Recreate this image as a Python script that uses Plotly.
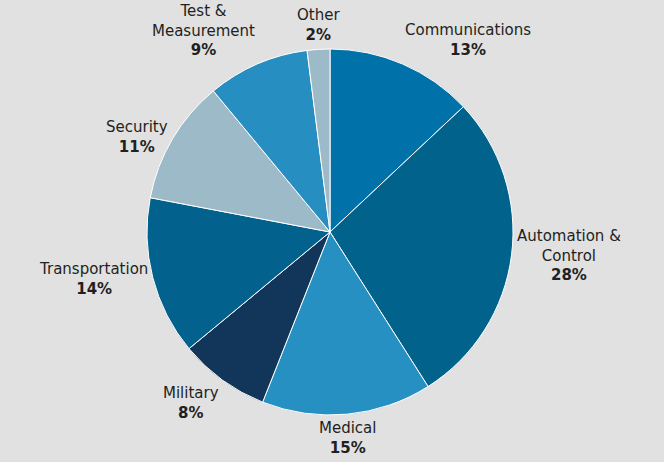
import math
import plotly.graph_objects as go

categories = ["Communications", "Automation &<br>Control", "Medical", "Military",
              "Transportation", "Security", "Test &<br>Measurement", "Other"]
values = [13, 28, 15, 8, 14, 11, 9, 2]
colors = ["#0172a9", "#01628c", "#2690c2", "#12355a",
          "#03628d", "#9dbac8", "#268ec0", "#9dbac8"]

W, H = 664, 462
CX, CY, R = 330, 232, 183  # pie centre and radius in px
GAP = 4

fig = go.Figure(go.Pie(
    labels=[c.replace("<br>", " ") for c in categories],
    values=values,
    sort=False,
    direction="clockwise",
    rotation=0,
    marker=dict(colors=colors, line=dict(color="#ffffff", width=1)),
    textinfo="none",
    hoverinfo="label+value",
    domain=dict(x=[(CX - R) / W, (CX + R) / W], y=[(H - CY - R) / H, (H - CY + R) / H]),
    showlegend=False,
))

# outside labels placed at each slice's mid-angle (computed from the values)
total = sum(values)
cum = 0
annotations = []
for cat, v in zip(categories, values):
    mid = (cum + v / 2) / total * 2 * math.pi
    cum += v
    s, c = math.sin(mid), math.cos(mid)
    px = CX + (R + GAP) * s
    py = CY - (R + GAP) * c
    xanchor = "center" if abs(s) < 0.25 else ("left" if s > 0 else "right")
    yanchor = "middle" if abs(c) < 0.55 else ("bottom" if c > 0 else "top")
    annotations.append(dict(
        x=px / W, y=(H - py) / H, xref="paper", yref="paper",
        text=f"{cat}<br><b>{v}%</b>", showarrow=False,
        xanchor=xanchor, yanchor=yanchor, align="center", borderpad=0,
        font=dict(family="DejaVu Sans", size=15, color="#231f20"),
    ))

fig.update_layout(
    width=W, height=H,
    margin=dict(l=0, r=0, t=0, b=0),
    paper_bgcolor="#e1e1e1",
    plot_bgcolor="#e1e1e1",
    annotations=annotations,
)

fig.write_html("out.html", config={"displayModeBar": False},
               post_script="document.body.style.margin='0';document.body.style.padding='0';")
